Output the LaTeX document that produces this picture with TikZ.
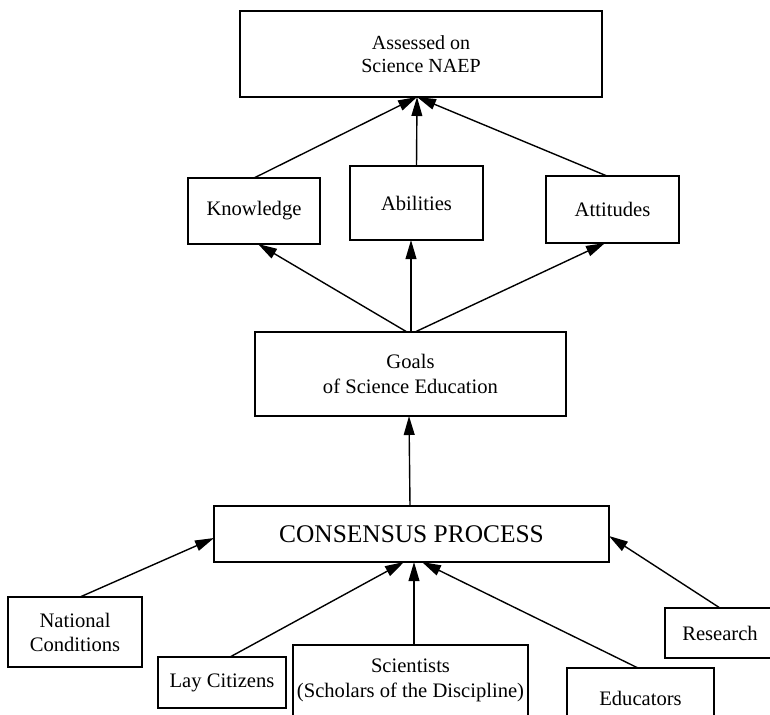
\documentclass[tikz,border=0pt]{standalone}
\usepackage{fontspec}
\setmainfont{Liberation Serif}
\usetikzlibrary{arrows.meta,calc}
\begin{document}
\begin{tikzpicture}[x=0.5pt,y=-0.5pt,
 box/.style={draw,line width=0.7pt,rectangle,inner sep=0pt,outer sep=0pt,align=center,font=\fontsize{10.3}{12}\selectfont},
 txt/.style={inner sep=0pt,align=center,font=\fontsize{10.3}{12.5}\selectfont},
 arr/.style={line width=0.7pt,-{Triangle[length=9.5pt,width=5.4pt]}}]
\useasboundingbox (0,0) rectangle (770,714);
\clip (0,0) rectangle (770,714);
\node[box,minimum width=181pt,minimum height=43pt,font=\fontsize{10}{11.5}\selectfont] (top) at (421,54) {Assessed on\\Science NAEP};
\node[box,minimum width=66pt,minimum height=33pt] (know) at (254,211) {Knowledge};
\node[box,minimum width=66.5pt,minimum height=37pt] (abil) at (416.5,203) {Abilities};
\node[box,minimum width=66.5pt,minimum height=33.5pt] (att) at (612.5,209.5) {Attitudes};
\node[box,minimum width=155.5pt,minimum height=42pt,font=\fontsize{10.3}{12.5}\selectfont] (goals) at (410.5,374) {Goals\\of Science Education};
\node[box,minimum width=197.5pt,minimum height=28pt,font=\fontsize{12.7}{15}\selectfont] (cons) at (411.5,534) {CONSENSUS PROCESS};
\node[box,minimum width=67pt,minimum height=35pt] (nat) at (75,632) {National\\Conditions};
\node[box,minimum width=64pt,minimum height=25.5pt] (lay) at (222,682.5) {Lay Citizens};
\node[box,minimum width=117.5pt,minimum height=57.5pt] (sci) at (410.5,702.5) {};
\node[txt] (scit) at (410.5,680) {Scientists\\(Scholars of the Discipline)};
\node[box,minimum width=73.5pt,minimum height=46pt] (edu) at (640.5,714) {};
\node[txt] (edut) at (640.5,698) {Educators};
\node[box,minimum width=55pt,minimum height=25pt] (res) at (720,633) {Research};
\draw[arr] (know.north) -- ([xshift=-2pt]top.south);
\draw[arr] (abil.north) -- ([xshift=-2pt]top.south);
\draw[arr] ([xshift=-2.75pt]att.north) -- ([xshift=-2pt]top.south);
\draw[arr] ([xshift=-1.75pt]goals.north) -- ([xshift=2pt]know.south);
\draw[arr] ([xshift=0.25pt]goals.north) -- ([xshift=-2.75pt]abil.south);
\draw[arr] ([xshift=2.25pt]goals.north) -- ([xshift=-3.75pt]att.south);
\draw[arr] ([xshift=-0.75pt]cons.north) -- ([xshift=-0.75pt]goals.south);
\draw[arr] ([xshift=2.5pt]nat.north) -- ([yshift=-2pt]cons.west);
\draw[arr] ([xshift=4pt]lay.north) -- ([xshift=-3.75pt]cons.south);
\draw[arr] ([xshift=1.75pt]sci.north) -- ([xshift=1.25pt]cons.south);
\draw[arr] ([xshift=-1.25pt]edu.north) -- ([xshift=5.25pt]cons.south);
\draw[arr] (res.north) -- ([yshift=-1pt]cons.east);
\end{tikzpicture}
\end{document}
